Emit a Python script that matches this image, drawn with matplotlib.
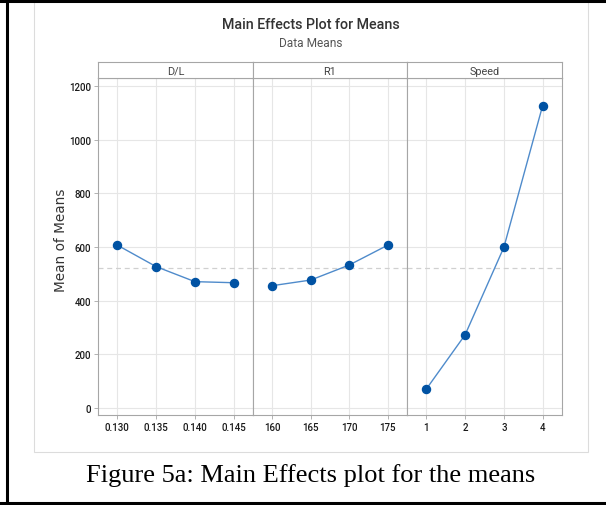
import numpy as np
import matplotlib
matplotlib.use('Agg')
import matplotlib.pyplot as plt
from matplotlib.patches import Rectangle

W, H = 606, 506

factors = ['D/L', 'R1', 'Speed']
levels = [['0.130', '0.135', '0.140', '0.145'],
          ['160', '165', '170', '175'],
          ['1', '2', '3', '4']]
means_dl = [607, 527, 471, 467]
means_r1 = [456, 477, 533, 607]
means_speed = [71, 273, 599, 1127]
all_means = [means_dl, means_r1, means_speed]
grand_mean = 521
yticks = [0, 200, 400, 600, 800, 1000, 1200]

line_col = '#4f8bcb'
dot_col = '#0052a3'
grid_col = '#e6e6e6'
frame_col = '#a6a6a6'
txt_col = '#333333'

plt.rcParams['font.family'] = ['Roboto', 'DejaVu Sans']

fig = plt.figure(figsize=(W / 100, H / 100), dpi=100)


def fx(x):
    return x / W


def fy(y):
    return 1 - y / H


# page background: black border + screenshot box
bg = fig.add_axes([0, 0, 1, 1])
bg.set_xlim(0, W)
bg.set_ylim(H, 0)
bg.axis('off')
bg.plot([0, W], [2, 2], color='black', lw=2.2)
bg.plot([7, 7], [0, 505], color='black', lw=2.2)
bg.plot([0, W], [504, 504], color='black', lw=2.2)
bg.add_patch(Rectangle((34, 2), 554, 451, facecolor='white', edgecolor='#dcdcdc', lw=0.8))

fig.text(fx(311), fy(25), 'Main Effects Plot for Means', ha='center', va='center',
         fontsize=10.3, color=txt_col, fontweight='medium')
fig.text(fx(311), fy(44), 'Data Means', ha='center', va='center',
         fontsize=8.6, color='#555555')
fig.text(fx(61), fy(240), 'Mean of Means', ha='center', va='center', rotation=90,
         fontsize=9.8, color=txt_col, family='DejaVu Sans')
fig.text(fx(311), fy(476), 'Figure 5a: Main Effects plot for the means', ha='center',
         va='center', fontsize=19, color='black', family='Liberation Serif')

left_edges = [98, 253, 407]
right_edges = [253, 407, 562]
top, bottom = 79, 416
strip_top = 63
xs = np.arange(1, 5)

for i in range(3):
    x0, x1 = left_edges[i], right_edges[i]
    ax = fig.add_axes([fx(x0), fy(bottom), (x1 - x0) / W, (bottom - top) / H])
    ax.set_xlim(0.5, 4.5)
    ax.set_ylim(-26, 1230)
    for v in yticks:
        ax.axhline(v, color=grid_col, lw=0.8, zorder=0)
    for v in xs:
        ax.axvline(v, color=grid_col, lw=0.8, zorder=0)
    ax.axhline(grand_mean, color='#d0d0d0', lw=0.9, ls=(0, (4, 3)), zorder=1)
    ax.plot(xs, all_means[i], color=line_col, lw=1.0, zorder=2)
    ax.plot(xs, all_means[i], 'o', color=dot_col, ms=5.8, zorder=3)
    ax.set_xticks(xs)
    ax.set_xticklabels(levels[i], fontweight='medium')
    ax.set_yticks(yticks)
    ax.set_yticklabels([str(v) for v in yticks], fontweight='medium')
    ax.tick_params(axis='both', labelsize=7, colors=frame_col, labelcolor='#1a1a1a',
                   length=3, width=0.6, pad=2)
    if i > 0:
        ax.tick_params(axis='y', left=False, labelleft=False)
    for s in ax.spines.values():
        s.set_color(frame_col)
        s.set_linewidth(0.8)
    # strip
    sax = fig.add_axes([fx(x0), fy(top), (x1 - x0) / W, (top - strip_top) / H])
    sax.set_xticks([])
    sax.set_yticks([])
    for s in sax.spines.values():
        s.set_color(frame_col)
        s.set_linewidth(0.8)
    sax.text(0.5, 0.45, factors[i], ha='center', va='center', fontsize=7.8,
             color='#444444', transform=sax.transAxes)

fig.savefig('out.png', dpi=100)
